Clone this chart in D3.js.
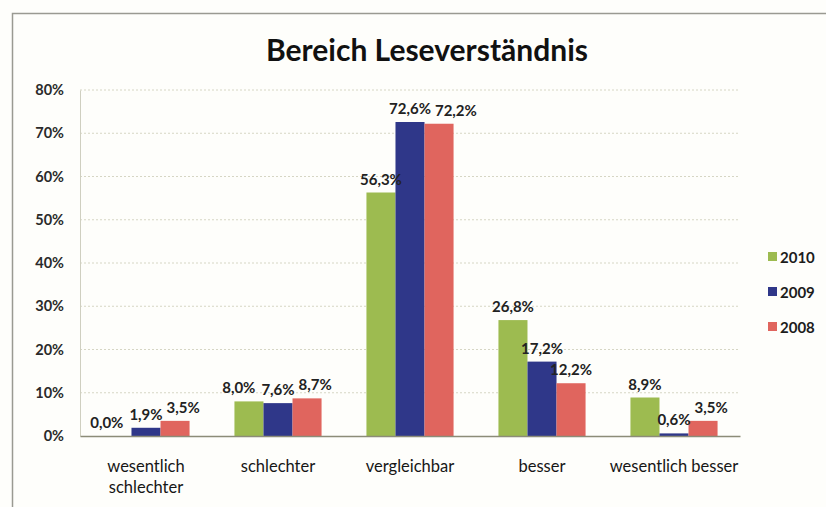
<!DOCTYPE html>
<html>
<head>
<meta charset="utf-8">
<script src="https://cdn.jsdelivr.net/npm/d3@7/dist/d3.min.js"></script>
<style>
  body { margin: 0; background: #fff; }
  svg { display: block; }
</style>
</head>
<body>
<div id="chart"></div>
<script>
const categories = ["wesentlich schlechter", "schlechter", "vergleichbar", "besser", "wesentlich besser"];
const categoryLines = [["wesentlich", "schlechter"], ["schlechter"], ["vergleichbar"], ["besser"], ["wesentlich besser"]];
const series = ["2010", "2009", "2008"];
const values2010 = [0.0, 8.0, 56.3, 26.8, 8.9];
const values2009 = [1.9, 7.6, 72.6, 17.2, 0.6];
const values2008 = [3.5, 8.7, 72.2, 12.2, 3.5];
const yTicks = [0, 10, 20, 30, 40, 50, 60, 70, 80];
const colors = ["#9dbb50", "#2f3789", "#e0655e"];

let width = 826, height = 507;
let plotLeft = 80, plotRight = 740, plotTop = 90, plotBottom = 436;
let font = "Lato, 'Open Sans', sans-serif";

let svg = d3.select("#chart")
    .append("svg")
    .attr("width", width)
    .attr("height", height);

svg.append("rect")
    .attr("width", width).attr("height", height)
    .attr("fill", "#fefefb");

// outer frame (right and bottom edges run off the picture)
svg.append("rect")
    .attr("x", 12.5).attr("y", 13.5)
    .attr("width", 830).attr("height", 520)
    .attr("fill", "none")
    .attr("stroke", "#9a9a92")
    .attr("stroke-width", 1.5);

svg.append("text")
    .attr("x", 427).attr("y", 61)
    .attr("text-anchor", "middle")
    .attr("font-family", font)
    .attr("font-weight", "bold")
    .attr("font-size", "30px")
    .attr("fill", "#111")
    .text("Bereich Leseverständnis");

let x0 = d3.scaleBand().domain(categories).range([plotLeft, plotRight]).padding(0);
let groupW = x0.bandwidth() * 0.66;
let x1 = d3.scaleBand().domain(series)
    .range([(x0.bandwidth() - groupW) / 2, (x0.bandwidth() + groupW) / 2]);
let y = d3.scaleLinear().domain([0, 80]).range([plotBottom, plotTop]);

// gridlines
svg.append("g")
    .selectAll("line")
    .data(yTicks.filter(d => d > 0))
    .enter()
    .append("line")
    .attr("x1", plotLeft).attr("x2", plotRight)
    .attr("y1", d => y(d)).attr("y2", d => y(d))
    .attr("stroke", "#d6d6c4")
    .attr("stroke-dasharray", "2,2");

// y axis
let yAxis = d3.axisLeft(y)
    .tickValues(yTicks)
    .tickFormat(d => d + "%")
    .tickSize(0)
    .tickPadding(16);

let gy = svg.append("g")
    .attr("transform", "translate(" + plotLeft + ",0)")
    .call(yAxis);
gy.select(".domain").attr("stroke", "#cfcfc0");
gy.selectAll("text")
    .attr("font-family", font)
    .attr("font-weight", "bold")
    .attr("font-size", "14.5px")
    .attr("fill", "#2a2a2a");

// bars
let rows = [];
categories.forEach((c, i) => {
    [values2010, values2009, values2008].forEach((vals, s) => {
        rows.push({ cat: c, ci: i, s: s, key: series[s], v: vals[i] });
    });
});

svg.append("g")
    .selectAll("rect")
    .data(rows)
    .enter()
    .append("rect")
    .attr("x", d => x0(d.cat) + x1(d.key))
    .attr("y", d => y(d.v))
    .attr("width", x1.bandwidth())
    .attr("height", d => y(0) - y(d.v))
    .attr("fill", d => colors[d.s]);

// x axis
let xAxis = d3.axisBottom(x0).tickSize(0).tickFormat("");
let gx = svg.append("g")
    .attr("transform", "translate(0," + plotBottom + ")")
    .call(xAxis);
gx.select(".domain").attr("stroke", "#8c8c78").attr("stroke-width", 1.5);

gx.selectAll(".tick").each(function (d, i) {
    let t = d3.select(this).append("text")
        .attr("text-anchor", "middle")
        .attr("font-family", font)
        .attr("font-size", "16.5px")
        .attr("fill", "#161616");
    categoryLines[i].forEach((line, k) => {
        t.append("tspan").attr("x", 0).attr("y", 36 + k * 21).text(line);
    });
});

// data labels, spread apart when they collide
let fmt = v => v.toFixed(1).replace(".", ",") + "%";
let labels = svg.append("g")
    .attr("font-family", font)
    .attr("font-weight", "bold")
    .attr("font-size", "15px")
    .attr("fill", "#222")
    .attr("text-anchor", "middle");

let nodes = labels.selectAll("text")
    .data(rows)
    .enter()
    .append("text")
    .text(d => fmt(d.v));

nodes.each(function (d) {
    d.w = this.getComputedTextLength();
    d.lx = x0(d.cat) + x1(d.key) + x1.bandwidth() / 2;
    d.ly = y(d.v) - 8;
});

categories.forEach((c, i) => {
    let g = rows.filter(d => d.ci === i);
    let a = g[0], b = g[1], r = g[2];
    if (Math.abs(a.ly - b.ly) < 15) {
        let need = (a.w + b.w) / 2 + 6;
        if (b.lx - a.lx < need) a.lx = b.lx - need;
    }
    if (Math.abs(r.ly - b.ly) < 15) {
        let need = (r.w + b.w) / 2 + 4;
        if (r.lx - b.lx < need) r.lx = b.lx + need;
    }
});

nodes.attr("x", d => d.lx).attr("y", d => d.ly);

// legend
let legend = svg.append("g")
    .selectAll("g")
    .data(series)
    .enter()
    .append("g")
    .attr("transform", (d, i) => "translate(768," + (257 + i * 35) + ")");

legend.append("rect")
    .attr("x", 0).attr("y", -5)
    .attr("width", 9).attr("height", 9)
    .attr("fill", (d, i) => colors[i]);

legend.append("text")
    .attr("x", 12).attr("y", 5.5)
    .attr("font-family", font)
    .attr("font-weight", "bold")
    .attr("font-size", "15px")
    .attr("fill", "#1c1c1c")
    .text(d => d);
</script>
</body>
</html>
